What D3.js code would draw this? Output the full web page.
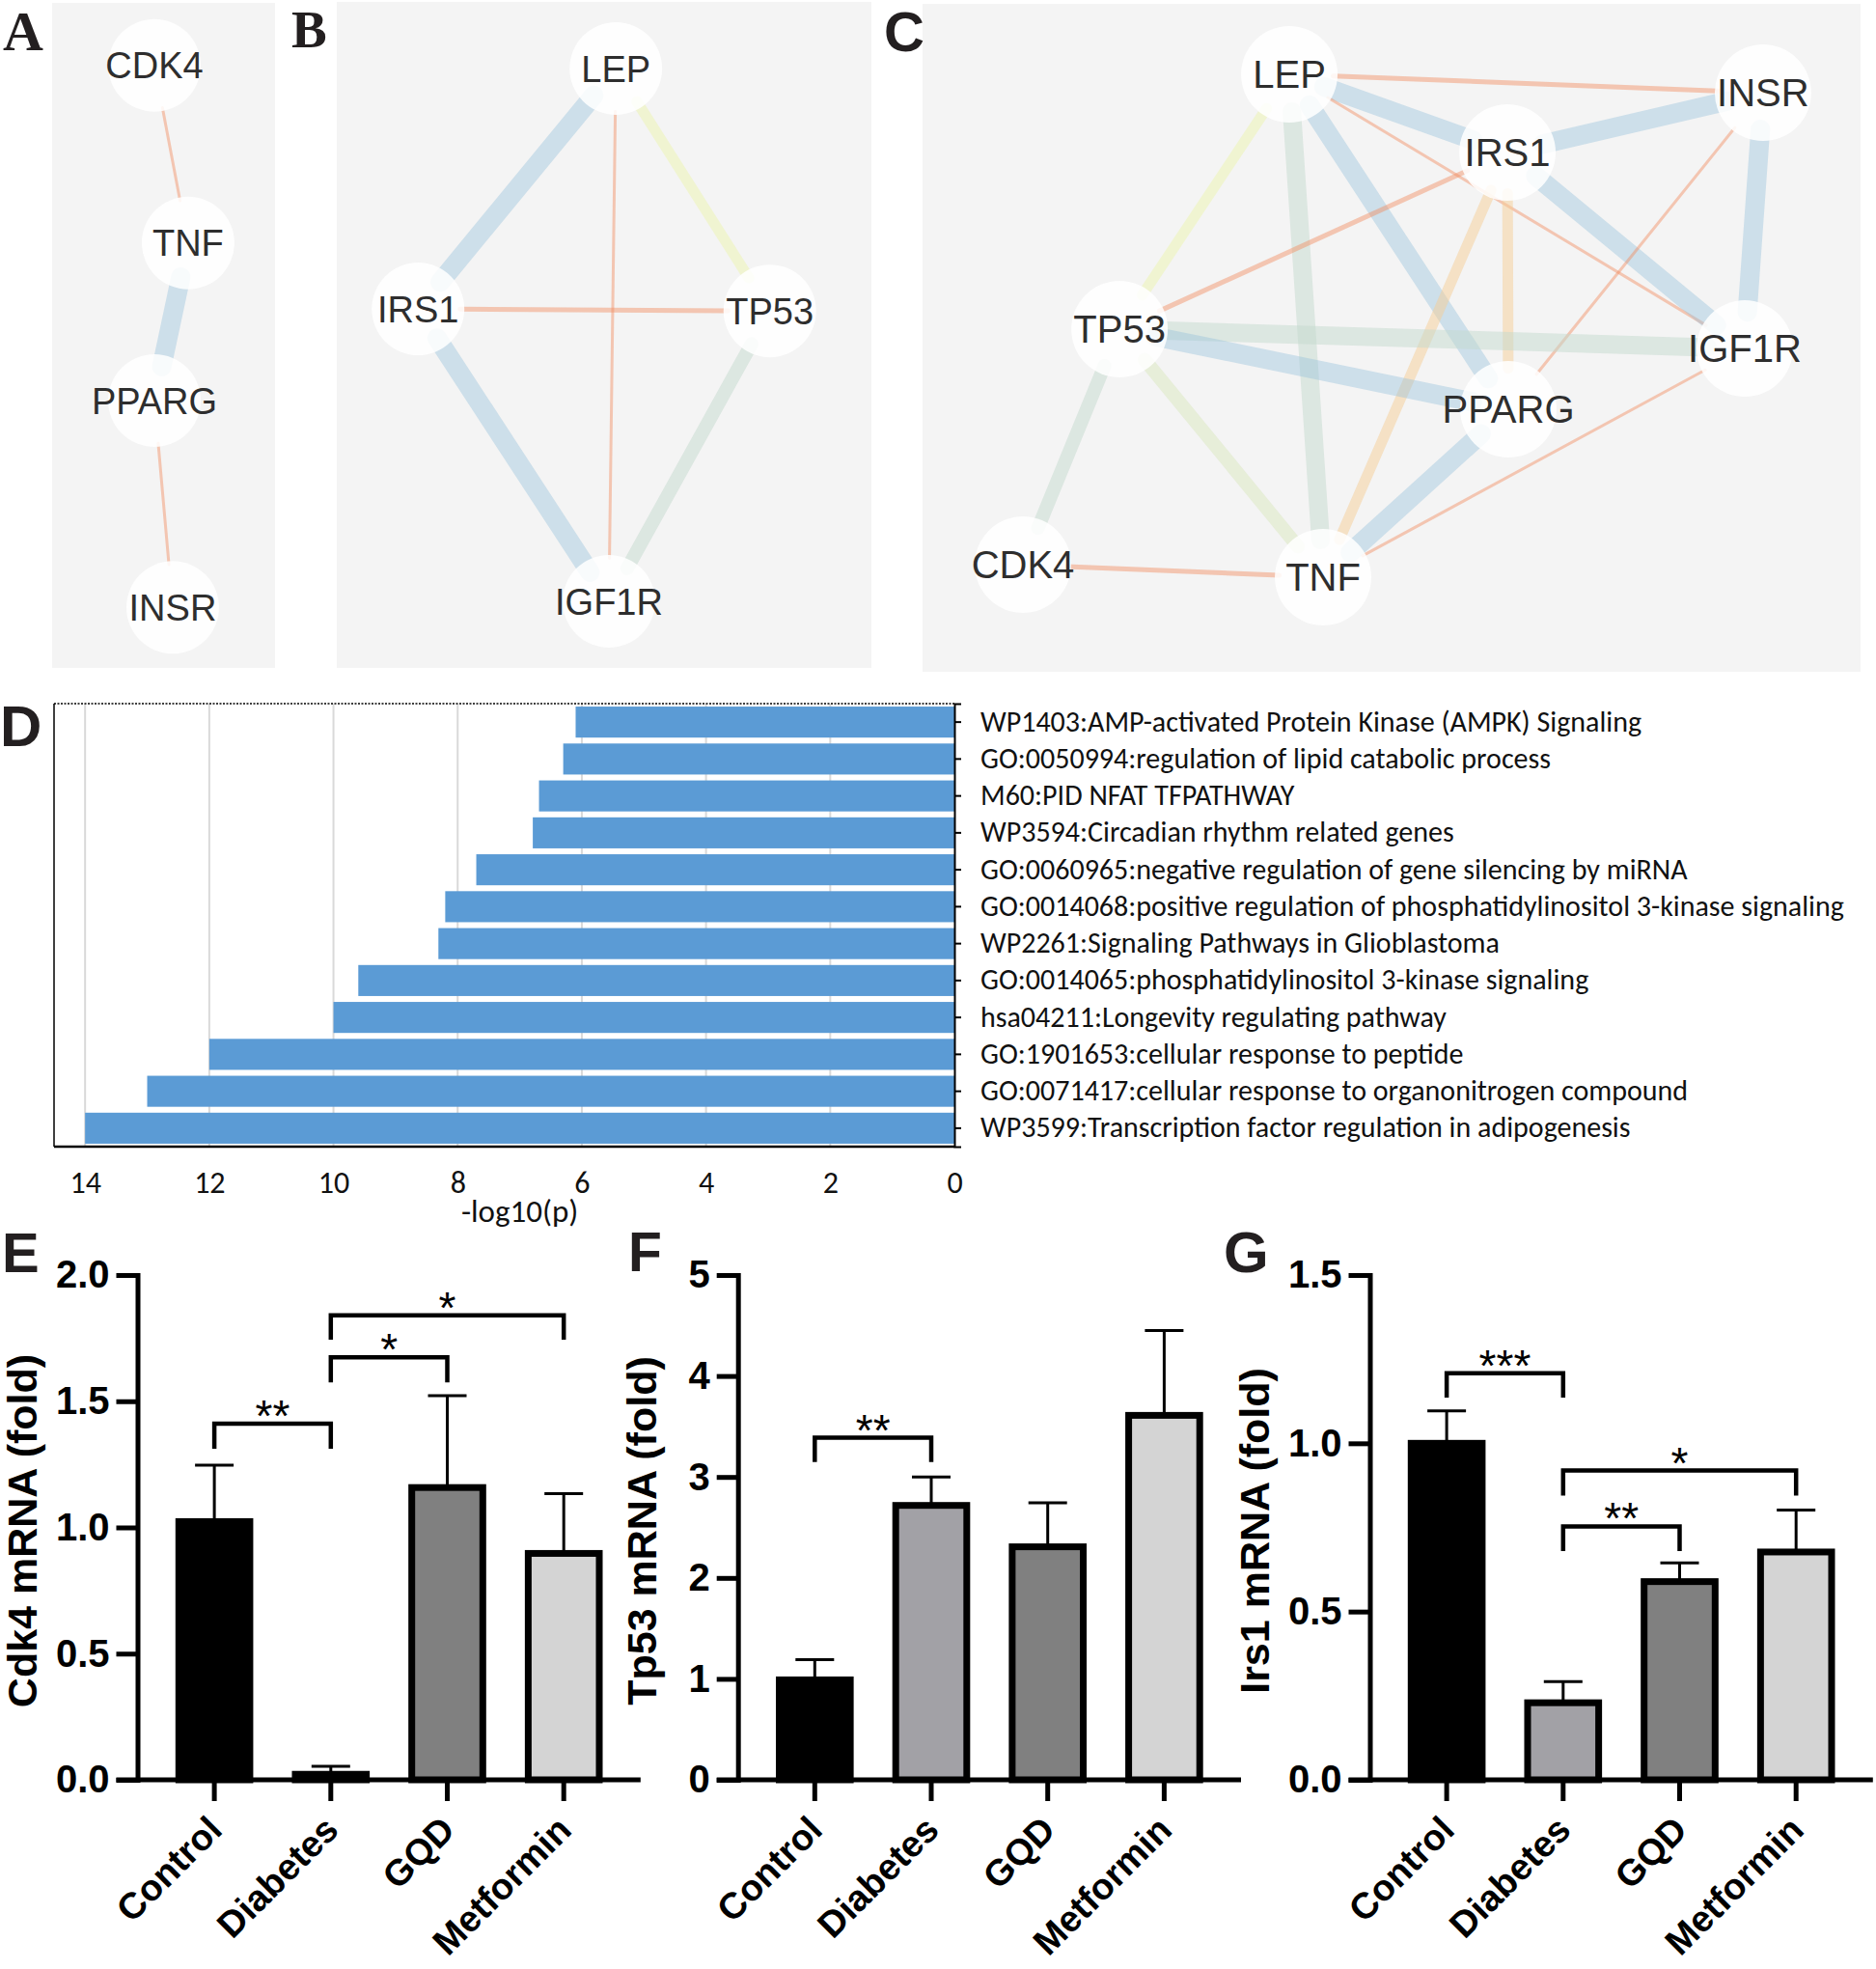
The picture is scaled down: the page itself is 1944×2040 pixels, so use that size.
<!DOCTYPE html>
<html><head><meta charset="utf-8">
<script src="https://cdn.jsdelivr.net/npm/d3@7/dist/d3.min.js"></script>
<style>
body{margin:0;background:#fff;}
svg{display:block;}
</style></head>
<body>
<svg id="fig" width="1944" height="2040" xmlns="http://www.w3.org/2000/svg"></svg>
<script>
// ===================== DATA =====================
// Panel A network
const nodesA = ["CDK4","TNF","PPARG","INSR"];
const edgesA = [["CDK4","TNF","orangeThin"],["TNF","PPARG","blue"],["PPARG","INSR","orangeThin"]];
// Panel B network
const nodesB = ["LEP","IRS1","TP53","IGF1R"];
const edgesB = [["LEP","IRS1","blue"],["LEP","TP53","yellow"],["LEP","IGF1R","orangeThin"],
                ["IRS1","TP53","orange"],["IRS1","IGF1R","blue"],["TP53","IGF1R","greenThin"]];
// Panel C network
const nodesC = ["LEP","INSR","IRS1","TP53","IGF1R","PPARG","CDK4","TNF"];
const edgesC = [["LEP","INSR","orange"],["LEP","IRS1","blue"],["LEP","PPARG","blue"],["LEP","IGF1R","orangeThin"],
                ["LEP","TNF","green"],["LEP","TP53","yellow"],["IRS1","INSR","blue"],["IRS1","IGF1R","blue"],
                ["IRS1","TP53","orange"],["IRS1","PPARG","peach"],["IRS1","TNF","peach"],["INSR","IGF1R","blue"],
                ["INSR","PPARG","orangeThin"],["TP53","IGF1R","green"],["TP53","PPARG","blue"],["TP53","TNF","yellowgreen"],
                ["TP53","CDK4","greenThin"],["PPARG","TNF","blue"],["IGF1R","TNF","orangeThin"],["CDK4","TNF","orange"]];
// Panel D enrichment
const pathways = [
  "WP1403:AMP-activated Protein Kinase (AMPK) Signaling",
  "GO:0050994:regulation of lipid catabolic process",
  "M60:PID NFAT TFPATHWAY",
  "WP3594:Circadian rhythm related genes",
  "GO:0060965:negative regulation of gene silencing by miRNA",
  "GO:0014068:positive regulation of phosphatidylinositol 3-kinase signaling",
  "WP2261:Signaling Pathways in Glioblastoma",
  "GO:0014065:phosphatidylinositol 3-kinase signaling",
  "hsa04211:Longevity regulating pathway",
  "GO:1901653:cellular response to peptide",
  "GO:0071417:cellular response to organonitrogen compound",
  "WP3599:Transcription factor regulation in adipogenesis"];
const pathwayLogP = [6.10, 6.30, 6.69, 6.79, 7.70, 8.20, 8.31, 9.60, 10.0, 12.0, 13.0, 14.0];
const logPTicks = [0,2,4,6,8,10,12,14];
// Panels E-G qPCR
const groups = ["Control","Diabetes","GQD","Metformin"];
const cdk4Mean = [1.023, 0.022, 1.158, 0.897];
const cdk4Err  = [0.224, 0.032, 0.364, 0.237];
const tp53Mean = [0.99, 2.718, 2.308, 3.61];
const tp53Err  = [0.20, 0.282, 0.436, 0.841];
const irs1Mean = [1.0, 0.229, 0.589, 0.677];
const irs1Err  = [0.096, 0.0625, 0.0556, 0.1245];
const cdk4Ticks = [0, 0.5, 1.0, 1.5, 2.0];
const tp53Ticks = [0, 1, 2, 3, 4, 5];
const irs1Ticks = [0, 0.5, 1.0, 1.5];
const cdk4Sig = [["Control","Diabetes","**"],["Diabetes","GQD","*"],["Diabetes","Metformin","*"]];
const tp53Sig = [["Control","Diabetes","**"]];
const irs1Sig = [["Control","Diabetes","***"],["Diabetes","GQD","**"],["Diabetes","Metformin","*"]];

// ===================== LAYOUT / STYLE =====================
const layoutA = {CDK4:[0.459,0.094], TNF:[0.610,0.361], PPARG:[0.459,0.598], INSR:[0.541,0.909]};
const layoutB = {LEP:[0.522,0.100], IRS1:[0.152,0.461], TP53:[0.810,0.464], IGF1R:[0.509,0.900]};
const layoutC = {LEP:[0.391,0.1055], INSR:[0.896,0.133], IRS1:[0.6235,0.2225], TP53:[0.210,0.487],
                 IGF1R:[0.8765,0.516], PPARG:[0.6245,0.607], CDK4:[0.107,0.8396], TNF:[0.427,0.8584]};
const edgeStyle = {
  blue:       {c:"rgba(150,193,220,0.42)", w:20},
  green:      {c:"rgba(195,218,205,0.5)",  w:19},
  greenThin:  {c:"rgba(195,218,205,0.5)",  w:14},
  yellow:     {c:"rgba(236,244,180,0.55)", w:11},
  yellowgreen:{c:"rgba(218,232,190,0.5)",  w:14},
  peach:      {c:"rgba(245,205,150,0.5)",  w:11},
  orange:     {c:"rgba(242,140,95,0.45)",  w:5},
  orangeThin: {c:"rgba(242,140,95,0.45)",  w:3}
};
const INK = "#231f20";
const SANS = "'Liberation Sans', Arial, Helvetica, sans-serif";
const barFills = ["#000000", "#a2a1a6", "#808080", "#d4d4d4"];

const svg = d3.select("#fig");
svg.append("rect").attr("width",1944).attr("height",2040).attr("fill","#fff");

// ---------- panel letters ----------
function letter(t, x, y, size, serif) {
  svg.append("text").attr("x",x).attr("y",y).text(t)
    .attr("font-family", serif ? "'Liberation Serif','Times New Roman',serif" : SANS)
    .attr("font-weight","bold").attr("font-size",size).attr("fill",INK);
}

// ---------- network panels ----------
function drawNetwork(box, names, layout, edges, r, fs) {
  const g = svg.append("g");
  g.append("rect").attr("x",box.x).attr("y",box.y).attr("width",box.w).attr("height",box.h).attr("fill","#f4f4f4");
  const sx = d3.scaleLinear().domain([0,1]).range([box.x, box.x+box.w]);
  const sy = d3.scaleLinear().domain([0,1]).range([box.y, box.y+box.h]);
  const P = {};
  names.forEach(n => P[n] = [sx(layout[n][0]), sy(layout[n][1])]);
  const segs = edges.map(([s,t,k]) => {
    const a = P[s], b = P[t], st = edgeStyle[k];
    const dx = b[0]-a[0], dy = b[1]-a[1], L = Math.hypot(dx,dy);
    const ux = dx/L, uy = dy/L, sh = Math.max(r - st.w/2 - 2, 0);
    return {x1:a[0]+ux*sh, y1:a[1]+uy*sh, x2:b[0]-ux*sh, y2:b[1]-uy*sh, st};
  });
  g.selectAll("line.e").data(segs).join("line").attr("class","e")
    .attr("x1",d=>d.x1).attr("y1",d=>d.y1).attr("x2",d=>d.x2).attr("y2",d=>d.y2)
    .attr("stroke",d=>d.st.c).attr("stroke-width",d=>d.st.w).attr("stroke-linecap","round");
  g.selectAll("circle.n").data(names).join("circle").attr("class","n")
    .attr("cx",n=>P[n][0]).attr("cy",n=>P[n][1]).attr("r",r)
    .attr("fill","#ffffff").attr("fill-opacity",0.86);
  g.selectAll("text.n").data(names).join("text").attr("class","n")
    .attr("x",n=>P[n][0]).attr("y",n=>P[n][1]).attr("dy","0.36em")
    .attr("text-anchor","middle").attr("font-family",SANS).attr("font-size",fs)
    .attr("fill","#2e2e2e").text(n=>n);
}
drawNetwork({x:54,y:3,w:231,h:689}, nodesA, layoutA, edgesA, 48, 38);
drawNetwork({x:349,y:2,w:554,h:690}, nodesB, layoutB, edgesB, 48, 38);
drawNetwork({x:956,y:4,w:972,h:692}, nodesC, layoutC, edgesC, 50, 40);
letter("A", 3, 52, 58, true);
letter("B", 302, 49, 55, true);
letter("C", 916, 53, 58, false);

// ---------- panel D ----------
(function(){
  const left = 56, right = 989, top = 729, bottom = 1188;
  const FONT = "Carlito, Lato, 'Open Sans', sans-serif";
  const xs = d3.scaleLinear().domain([0,14.5]).range([right,left]);
  const yb = d3.scaleBand().domain(pathways).range([top,bottom]).paddingInner(0.16).paddingOuter(0.08);
  const g = svg.append("g");
  g.selectAll("line.grid").data(logPTicks.filter(t=>t>0)).join("line").attr("class","grid")
    .attr("x1",d=>xs(d)).attr("x2",d=>xs(d)).attr("y1",top).attr("y2",bottom)
    .attr("stroke","#d9d9d9").attr("stroke-width",2);
  g.selectAll("rect.bar").data(pathways).join("rect").attr("class","bar")
    .attr("x",(d,i)=>xs(pathwayLogP[i])).attr("width",(d,i)=>xs(0)-xs(pathwayLogP[i]))
    .attr("y",d=>yb(d)).attr("height",yb.bandwidth()).attr("fill","#5b9bd5");
  // frame
  g.append("line").attr("x1",left).attr("x2",right).attr("y1",top).attr("y2",top)
    .attr("stroke","#000").attr("stroke-width",1.5).attr("stroke-dasharray","2,1.5");
  g.append("line").attr("x1",left).attr("x2",left).attr("y1",top).attr("y2",bottom)
    .attr("stroke","#000").attr("stroke-width",1.5);
  g.append("line").attr("x1",left).attr("x2",right).attr("y1",bottom).attr("y2",bottom)
    .attr("stroke","#000").attr("stroke-width",2.5);
  // x axis labels
  const xa = g.append("g").attr("transform",`translate(0,${bottom})`)
    .call(d3.axisBottom(xs).tickValues(logPTicks).tickSize(0).tickPadding(25));
  xa.select(".domain").remove();
  xa.selectAll("text").attr("font-family",FONT).attr("font-size",32).attr("fill","#111");
  // right category axis
  const ya = g.append("g").attr("transform",`translate(${right},0)`)
    .call(d3.axisRight(yb).tickSize(7).tickSizeOuter(7).tickPadding(20));
  ya.select(".domain").attr("stroke","#000").attr("stroke-width",2);
  ya.selectAll(".tick line").attr("stroke","#000").attr("stroke-width",2);
  ya.selectAll("text").attr("font-family",FONT).attr("font-size",30).attr("fill","#111");
  g.append("text").attr("x",xs(7)).attr("y",1266).attr("text-anchor","middle")
    .attr("font-family",FONT).attr("font-size",33).attr("fill","#111").text("-log10(p)");
})();
letter("D", 0, 773, 60, false);

// ---------- panels E, F, G ----------
function drawBars(cfg) {
  const {axisX, mean, err, ticks, fmt, title, titleX, sig, sigY} = cfg;
  const base = 1844, topY = 1321, tk = 22;
  const y = d3.scaleLinear().domain([0, ticks[ticks.length-1]]).range([base, topY]);
  const x = d3.scaleBand().domain(groups).range([axisX, axisX + 521.3]).paddingInner(0.332).paddingOuter(0.3256);
  const bw = x.bandwidth(), sw = 7;
  const cx = gname => x(gname) + bw/2;
  const g = svg.append("g");
  // error bars
  const eb = g.selectAll("g.err").data(groups).join("g").attr("class","err");
  eb.append("line").attr("x1",d=>cx(d)).attr("x2",d=>cx(d))
    .attr("y1",(d,i)=>y(mean[i])).attr("y2",(d,i)=>y(mean[i]+err[i]))
    .attr("stroke","#000").attr("stroke-width",3);
  eb.append("line").attr("x1",d=>cx(d)-20).attr("x2",d=>cx(d)+20)
    .attr("y1",(d,i)=>y(mean[i]+err[i])).attr("y2",(d,i)=>y(mean[i]+err[i]))
    .attr("stroke","#000").attr("stroke-width",3);
  // bars
  g.selectAll("rect.bar").data(groups).join("rect").attr("class","bar")
    .attr("x",d=>x(d)+sw/2).attr("width",bw-sw)
    .attr("y",(d,i)=>y(mean[i])).attr("height",(d,i)=>base - y(mean[i]))
    .attr("fill",(d,i)=>barFills[i]).attr("stroke","#000").attr("stroke-width",sw);
  // y axis
  const ya = g.append("g").attr("transform",`translate(${axisX},0)`)
    .call(d3.axisLeft(y).tickValues(ticks).tickFormat(d3.format(fmt)).tickSize(tk).tickSizeOuter(0).tickPadding(7));
  ya.select(".domain").attr("stroke","#000").attr("stroke-width",5).attr("stroke-linecap","square");
  ya.selectAll(".tick line").attr("stroke","#000").attr("stroke-width",5);
  ya.selectAll("text").attr("font-family",SANS).attr("font-weight","bold").attr("font-size",40).attr("fill","#000");
  // x axis
  const xa = g.append("g").attr("transform",`translate(0,${base})`)
    .call(d3.axisBottom(x).tickSize(tk).tickSizeOuter(0).tickFormat(""));
  xa.select(".domain").remove();
  xa.selectAll(".tick line").attr("stroke","#000").attr("stroke-width",5);
  g.append("line").attr("x1",x.range()[0]-tk).attr("x2",x.range()[1]).attr("y1",base).attr("y2",base)
    .attr("stroke","#000").attr("stroke-width",5);
  g.selectAll("text.xl").data(groups).join("text").attr("class","xl")
    .attr("transform",d=>`translate(${cx(d)+10},1898) rotate(-45)`)
    .attr("text-anchor","end").attr("font-family",SANS).attr("font-weight","bold")
    .attr("font-size",38).attr("fill","#000").text(d=>d);
  // y title
  g.append("text").attr("transform",`translate(${titleX},1586) rotate(-90)`).attr("dy","0.36em")
    .attr("text-anchor","middle").attr("font-family",SANS).attr("font-weight","bold")
    .attr("font-size",43).attr("fill","#000").text(title);
  // significance brackets
  sig.forEach(([a,b,lab],i) => {
    const x1 = cx(a), x2 = cx(b), lv = y(sigY[i][0]), lg = y(sigY[i][1]);
    g.append("path").attr("d",`M${x1},${lg}V${lv}H${x2}V${lg}`)
      .attr("fill","none").attr("stroke","#000").attr("stroke-width",4.5);
    g.append("text").attr("x",(x1+x2)/2).attr("y",lv+8).attr("text-anchor","middle")
      .attr("font-family",SANS).attr("font-size",46).attr("fill","#000").text(lab);
  });
}
drawBars({axisX:142.5, mean:cdk4Mean, err:cdk4Err, ticks:cdk4Ticks, fmt:".1f",
  title:"Cdk4 mRNA (fold)", titleX:23, sig:cdk4Sig, sigY:[[1.411,1.312],[1.674,1.575],[1.840,1.744]]});
drawBars({axisX:764.7, mean:tp53Mean, err:tp53Err, ticks:tp53Ticks, fmt:"d",
  title:"Tp53 mRNA (fold)", titleX:665, sig:tp53Sig, sigY:[[3.389,3.148]]});
drawBars({axisX:1419.5, mean:irs1Mean, err:irs1Err, ticks:irs1Ticks, fmt:".1f",
  title:"Irs1 mRNA (fold)", titleX:1300, sig:irs1Sig, sigY:[[1.2085,1.136],[0.753,0.68],[0.919,0.845]]});
letter("E", 2, 1318, 58, false);
letter("F", 651, 1317, 57, false);
letter("G", 1268, 1318, 60, false);
</script>
</body></html>
